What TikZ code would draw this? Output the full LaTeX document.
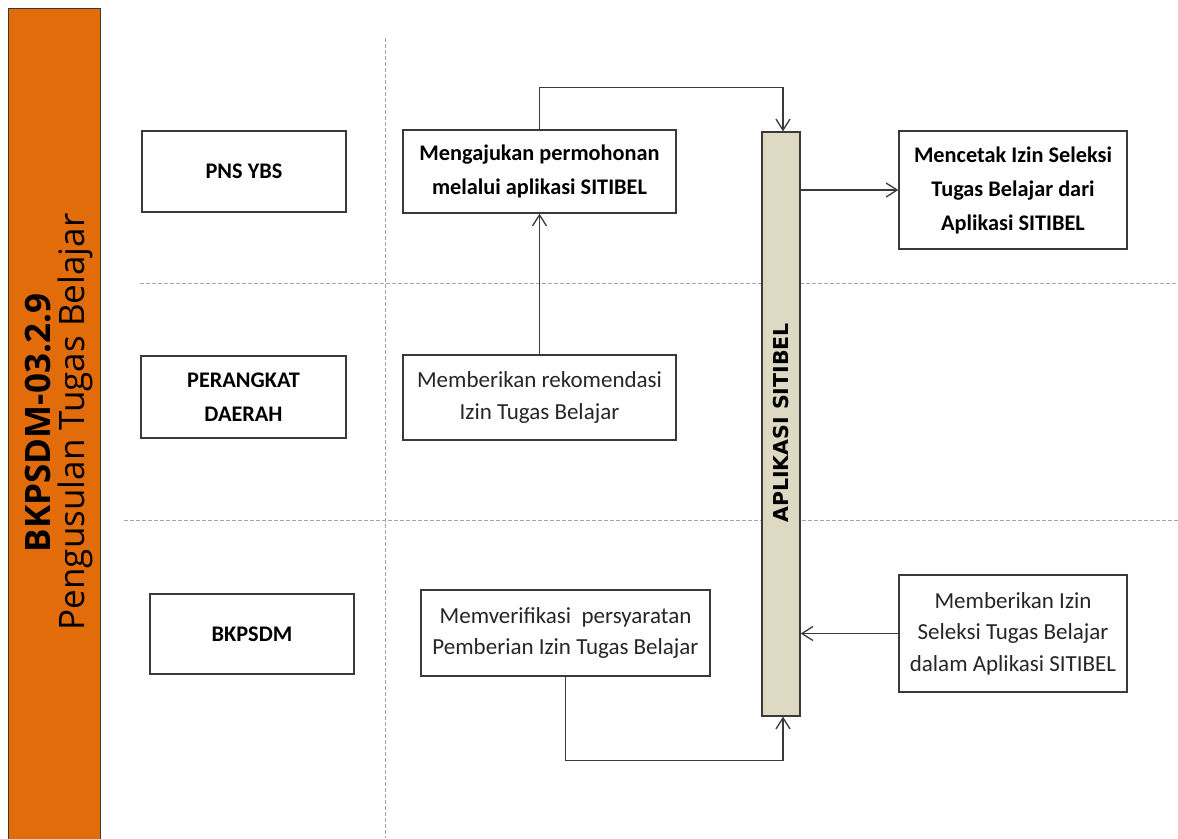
\documentclass[tikz,border=0pt]{standalone}
\usepackage{fontspec}
\setmainfont{Carlito}
\newfontfamily\opensans{Open Sans}
\newfontfamily\dejavu{DejaVu Sans}
\usetikzlibrary{arrows.meta,calc}
\definecolor{orangebar}{HTML}{E36C0A}
\definecolor{tanbar}{HTML}{DDD9C3}
\definecolor{edge}{HTML}{3A3A3A}
\definecolor{txt}{HTML}{262626}
\definecolor{dash}{HTML}{A6A6A6}
\tikzset{
  box/.style={draw=edge, line width=1.4pt, fill=white, inner sep=0pt, align=center, text=txt, font=\fontsize{23}{31.5}\selectfont},
  boldbox/.style={box, text=black, font=\fontsize{22.3}{34}\selectfont\bfseries},
  arr/.style={draw=edge, line width=1.3pt, -{Straight Barb[length=11pt,width=14pt,line width=1.3pt]}},
  sep/.style={draw=dash, line width=1pt, dashed, dash pattern=on 4pt off 2pt}
}
\begin{document}
\begin{tikzpicture}[x=1pt,y=-1pt]
\path[use as bounding box, fill=white] (0,0) rectangle (1178,838);
% lane separators
\coordinate (v1) at (385,38); \coordinate (v2) at (385,838);
\coordinate (h1a) at (140,283); \coordinate (h1b) at (1178,283);
\coordinate (h2a) at (124,520); \coordinate (h2b) at (1178,520);
\draw[sep] (v1) -- (v2);
\draw[sep] (h1a) -- (h1b);
\draw[sep] (h2a) -- (h2b);
% orange title bar
\node[draw=edge, line width=1.2pt, fill=orangebar, minimum width=92pt, minimum height=840pt, inner sep=0pt, anchor=north west] (title) at (8,8) {};
\node[rotate=90, font=\opensans\bfseries\fontsize{35}{40}\selectfont, text=black] (code) at (38.5,423) {BKPSDM-03.2.9};
\node[rotate=90, font=\opensans\fontsize{35}{40}\selectfont, text=black] (name) at (75.5,422) {Pengusulan Tugas Belajar};
% actors
\node[boldbox, minimum width=204pt, minimum height=81pt] (pns) at (244,171.5) {PNS YBS};
\node[boldbox, minimum width=205pt, minimum height=82pt] (pd) at (243.5,397) {PERANGKAT\\DAERAH};
\node[boldbox, minimum width=204pt, minimum height=80pt] (bk) at (252,634) {BKPSDM};
% activities
\node[boldbox, minimum width=273pt, minimum height=83pt] (aju) at (539.5,171.5) {Mengajukan permohonan\\melalui aplikasi SITIBEL};
\node[box, minimum width=273pt, minimum height=85pt] (rek) at (539.5,397.5) {Memberikan rekomendasi\\Izin Tugas Belajar};
\node[box, minimum width=289pt, minimum height=86pt] (ver) at (565.5,633) {Memverifikasi\ \ persyaratan\\Pemberian Izin Tugas Belajar};
\node[draw=edge, line width=1.4pt, fill=tanbar, minimum width=38pt, minimum height=584pt, inner sep=0pt] (bar) at (781,424) {};
\node[rotate=90, font=\dejavu\bfseries\fontsize{20.5}{24}\selectfont, text=black] (barlbl) at (781,423) {APLIKASI SITIBEL};
\node[boldbox, minimum width=228pt, minimum height=118pt] (cetak) at (1013,190) {Mencetak Izin Seleksi\\Tugas Belajar dari\\Aplikasi SITIBEL};
\node[box, minimum width=228pt, minimum height=117pt] (izin) at (1013,633.5) {Memberikan Izin\\Seleksi Tugas Belajar\\dalam Aplikasi SITIBEL};
% connectors
\draw[arr] (aju.north) -- ++(0,-42) -| ([xshift=2pt]bar.north);
\draw[arr] (rek.north) -- (aju.south);
\draw[arr] (bar.east |- cetak.west) -- (cetak.west);
\draw[arr] (izin.west) -- (bar.east |- izin.west);
\draw[arr] (ver.south) -- ++(0,84) -| ([xshift=2pt]bar.south);
\end{tikzpicture}
\end{document}
